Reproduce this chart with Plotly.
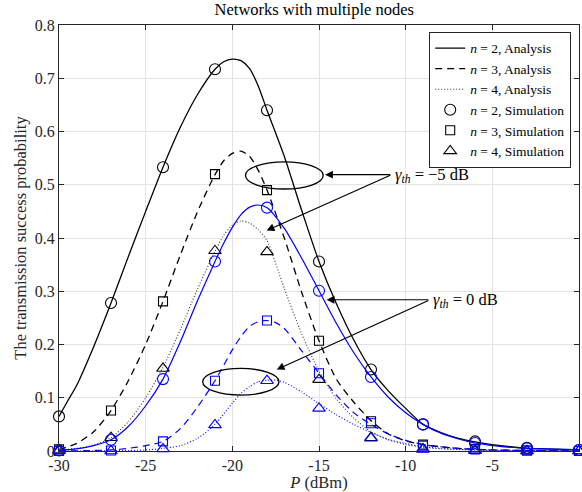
import plotly.graph_objects as go

# ---------------- data ----------------
P_sim = [-30, -27, -24, -21, -18, -15, -12, -9, -6, -3, 0]

# gamma_th = -5 dB (black)
sim_n2_m5 = [0.065, 0.278, 0.533, 0.717, 0.640, 0.356, 0.153, 0.050, 0.018, 0.006, 0.002]
sim_n3_m5 = [0.003, 0.076, 0.281, 0.520, 0.490, 0.207, 0.056, 0.012, 0.004, 0.001, 0.000]
sim_n4_m5 = [0.002, 0.025, 0.155, 0.376, 0.374, 0.134, 0.025, 0.004, 0.001, 0.000, 0.000]
# gamma_th = 0 dB (blue)
sim_n2_0 = [0.001, 0.021, 0.135, 0.356, 0.457, 0.301, 0.139, 0.050, 0.015, 0.005, 0.002]
sim_n3_0 = [0.000, 0.001, 0.018, 0.132, 0.245, 0.146, 0.052, 0.010, 0.003, 0.001, 0.000]
sim_n4_0 = [0.000, 0.000, 0.004, 0.049, 0.132, 0.080, 0.024, 0.003, 0.001, 0.000, 0.000]

# analysis curves
P_a2_m5 = [-30, -29.5, -29, -28, -27, -26, -25, -24, -23, -22, -21, -20.5, -20, -19.5, -19, -18.5, -18, -17, -16, -15, -14, -13, -12, -11, -10, -9, -8, -7, -6, -5, -4, -3, -2, -1, 0]
a2_m5 = [0.065, 0.094, 0.122, 0.196, 0.278, 0.365, 0.450, 0.533, 0.608, 0.670, 0.717, 0.731, 0.736, 0.733, 0.718, 0.685, 0.640, 0.553, 0.452, 0.356, 0.277, 0.209, 0.153, 0.113, 0.080, 0.050, 0.035, 0.024, 0.017, 0.012, 0.008, 0.005, 0.004, 0.003, 0.002]

P_a3_m5 = [-30, -29, -28, -27, -26, -25, -24, -23, -22, -21, -20.5, -20, -19.5, -19, -18.5, -18, -17, -16, -15, -14, -13, -12, -11, -10, -9, -8, -7, -6, -5, -4, -3, -2, -1, 0]
a3_m5 = [0.003, 0.014, 0.036, 0.076, 0.132, 0.200, 0.281, 0.368, 0.450, 0.519, 0.545, 0.559, 0.563, 0.553, 0.527, 0.490, 0.400, 0.298, 0.207, 0.135, 0.092, 0.057, 0.032, 0.019, 0.012, 0.008, 0.005, 0.003, 0.002, 0.0015, 0.001, 0.0005, 0.0002, 0.0]

P_a4_m5 = [-30, -29, -28, -27, -26, -25, -24, -23, -22, -21, -20.5, -20, -19.5, -19, -18.5, -18, -17, -16, -15, -14, -13, -12, -11, -10, -9, -8, -7, -6, -5, -4, -3, -2, -1, 0]
a4_m5 = [0.002, 0.005, 0.011, 0.025, 0.055, 0.100, 0.157, 0.228, 0.305, 0.375, 0.405, 0.424, 0.432, 0.428, 0.415, 0.395, 0.305, 0.220, 0.150, 0.098, 0.062, 0.036, 0.021, 0.012, 0.007, 0.004, 0.003, 0.002, 0.001, 0.0005, 0.0003, 0.0002, 0.0001, 0.0]

P_a2_0 = [-30, -29, -28, -27, -26, -25, -24, -23, -22, -21, -20.5, -20, -19.5, -19, -18.5, -18, -17, -16, -15, -14, -13, -12, -11, -10, -9, -8, -7, -6, -5, -4, -3, -2, -1, 0]
a2_0 = [0.001, 0.004, 0.010, 0.021, 0.046, 0.085, 0.135, 0.205, 0.283, 0.356, 0.390, 0.420, 0.444, 0.458, 0.462, 0.457, 0.418, 0.362, 0.301, 0.240, 0.185, 0.139, 0.101, 0.072, 0.050, 0.034, 0.023, 0.015, 0.010, 0.007, 0.005, 0.004, 0.003, 0.0025, 0.002]

P_a3_0 = [-30, -29, -28, -27, -26, -25, -24, -23, -22, -21, -20, -19.5, -19, -18.5, -18, -17.5, -17, -16, -15, -14, -13, -12, -11, -10, -9, -8, -7, -6, -5, -4, -3, -2, -1, 0]
a3_0 = [0.0, 0.0003, 0.001, 0.002, 0.005, 0.010, 0.018, 0.042, 0.083, 0.132, 0.190, 0.215, 0.234, 0.243, 0.245, 0.241, 0.230, 0.188, 0.146, 0.105, 0.072, 0.050, 0.032, 0.020, 0.012, 0.008, 0.005, 0.003, 0.002, 0.0015, 0.001, 0.0005, 0.0002, 0.0]

P_a4_0 = [-30, -29, -28, -27, -26, -25, -24, -23, -22, -21, -20, -19.5, -19, -18.5, -18, -17.5, -17, -16, -15, -14, -13, -12, -11, -10, -9, -8, -7, -6, -5, -4, -3, -2, -1, 0]
a4_0 = [0.0, 0.0, 0.0002, 0.0005, 0.001, 0.002, 0.005, 0.010, 0.024, 0.050, 0.090, 0.108, 0.121, 0.130, 0.133, 0.133, 0.129, 0.111, 0.089, 0.068, 0.050, 0.035, 0.022, 0.014, 0.008, 0.005, 0.003, 0.002, 0.001, 0.0007, 0.0005, 0.0003, 0.0002, 0.0]

x_ticks = [-30, -25, -20, -15, -10, -5, 0]
x_ticktext = ["-30", "-25", "-20", "-15", "-10", "-5", "0"]
y_ticks = [0, 0.1, 0.2, 0.3, 0.4, 0.5, 0.6, 0.7, 0.8]
y_ticktext = ["0", "0.1", "0.2", "0.3", "0.4", "0.5", "0.6", "0.7", "0.8"]

legend_names = ["<i>n</i> = 2, Analysis", "<i>n</i> = 3, Analysis", "<i>n</i> = 4, Analysis",
                "<i>n</i> = 2, Simulation", "<i>n</i> = 3, Simulation", "<i>n</i> = 4, Simulation"]

# ---------------- figure ----------------
FONT = "Liberation Serif"
BLACK = "#000000"
BLUE = "#0000ff"
DASH = "7px,5px"
DOT = "1px,2px"

fig = go.Figure()

def line(x, y, color, dash, name, show, width):
    fig.add_trace(go.Scatter(x=x, y=y, mode="lines", name=name, showlegend=show,
                             line=dict(color=color, dash=dash, width=width, shape="spline", smoothing=0.7)))

def marks(y, color, symbol, size, name, show):
    fig.add_trace(go.Scatter(x=P_sim, y=y, mode="markers", name=name, showlegend=show, cliponaxis=False,
                             marker=dict(symbol=symbol, size=size, color=color,
                                         line=dict(color=color, width=1.1))))

line(P_a2_m5, a2_m5, BLACK, "solid", legend_names[0], True, 1.3)
line(P_a3_m5, a3_m5, BLACK, DASH, legend_names[1], True, 1.3)
line(P_a4_m5, a4_m5, "#333333", DOT, legend_names[2], True, 1.1)
marks(sim_n2_m5, BLACK, "circle-open", 11, legend_names[3], True)
marks(sim_n3_m5, BLACK, "square-open", 9, legend_names[4], True)
marks(sim_n4_m5, BLACK, "triangle-up-open", 11, legend_names[5], True)

line(P_a2_0, a2_0, BLUE, "solid", "", False, 1.2)
line(P_a3_0, a3_0, BLUE, DASH, "", False, 1.2)
line(P_a4_0, a4_0, BLUE, DOT, "", False, 1.1)
marks(sim_n2_0, BLUE, "circle-open", 11, "", False)
marks(sim_n3_0, BLUE, "square-open", 9, "", False)
marks(sim_n4_0, BLUE, "triangle-up-open", 11, "", False)

# ellipses
fig.add_shape(type="circle", xref="x", yref="y", x0=-19.24, x1=-14.76, y0=0.492, y1=0.543,
              line=dict(color=BLACK, width=1.3))
fig.add_shape(type="circle", xref="x", yref="y", x0=-21.71, x1=-17.31, y0=0.105, y1=0.155,
              line=dict(color=BLACK, width=1.3))

def arrow(x_head, y_head, x_tail, y_tail):
    fig.add_annotation(x=x_head, y=y_head, ax=x_tail, ay=y_tail, xref="x", yref="y",
                       axref="x", ayref="y", text="", showarrow=True, arrowhead=2,
                       arrowsize=1.3, arrowwidth=1.2, arrowcolor=BLACK)

arrow(-14.65, 0.519, -10.8, 0.519)
arrow(-18.02, 0.414, -10.8, 0.519)
arrow(-14.56, 0.284, -8.6, 0.284)
arrow(-17.44, 0.153, -8.6, 0.284)

fig.add_annotation(x=-10.75, y=0.519, xref="x", yref="y", xanchor="left", yanchor="middle",
                   text="<i>γ</i><sub><i>th</i></sub> = −5 dB", showarrow=False,
                   font=dict(family=FONT, size=16.5, color=BLACK))
fig.add_annotation(x=-8.55, y=0.284, xref="x", yref="y", xanchor="left", yanchor="middle",
                   text="<i>γ</i><sub><i>th</i></sub> = 0 dB", showarrow=False,
                   font=dict(family=FONT, size=16.5, color=BLACK))

axis_common = dict(showline=True, linecolor="#262626", linewidth=1, mirror="ticks",
                   ticks="inside", ticklen=5, tickcolor="#262626", showgrid=True,
                   gridcolor="#e3e3e3", gridwidth=1, zeroline=False,
                   tickfont=dict(family=FONT, size=16, color="#262626"))

fig.update_xaxes(range=[-30, 0], tickvals=x_ticks, ticktext=x_ticktext,
                 title=dict(text="<i>P</i> (dBm)", font=dict(family=FONT, size=16.5, color="#262626"), standoff=0),
                 **axis_common)
fig.update_yaxes(range=[0, 0.8], tickvals=y_ticks, ticktext=y_ticktext,
                 title=dict(text="The transmission success probability", font=dict(family=FONT, size=16.5, color="#262626"), standoff=4),
                 **axis_common)

fig.update_layout(
    width=582, height=492,
    margin=dict(l=59, r=3, t=25, b=41),
    paper_bgcolor="white", plot_bgcolor="white",
    title=dict(text="Networks with multiple nodes", x=0.54, xanchor="center", y=0.992, yanchor="top",
               font=dict(family=FONT, size=16.5, color="#000000")),
    legend=dict(x=0.985, y=0.984, xanchor="right", yanchor="top", bgcolor="white",
                bordercolor="#262626", borderwidth=1, tracegroupgap=0, itemwidth=30,
                font=dict(family=FONT, size=13.5, color="#000000")),
    font=dict(family=FONT),
)

fig.write_html("out.html")
